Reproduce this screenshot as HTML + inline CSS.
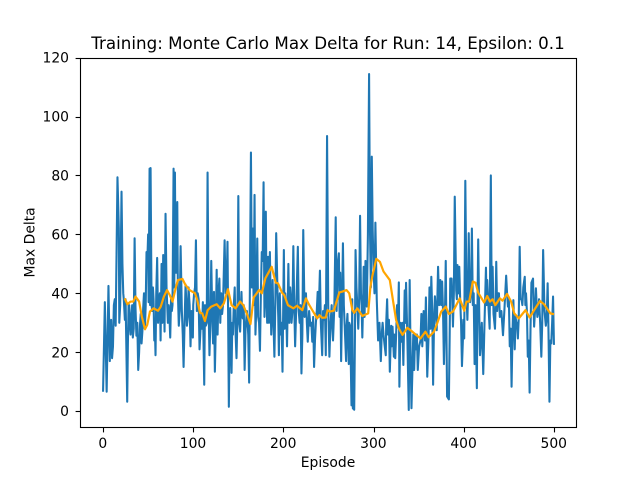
<!DOCTYPE html>
<html>
<head>
<meta charset="utf-8">
<title>Training: Monte Carlo Max Delta</title>
<style>
html,body{margin:0;padding:0;background:#fff;}
#chart{display:block;width:640px;height:480px;}
text{font-family:"DejaVu Sans","Liberation Sans",sans-serif;fill:#000;}
</style>
</head>
<body>
<svg id="chart" xmlns="http://www.w3.org/2000/svg" width="640" height="480" viewBox="0 0 640 480">
<rect x="0" y="0" width="640" height="480" fill="#fff"/>
<text x="328" y="49" font-size="16.72" text-anchor="middle">Training: Monte Carlo Max Delta for Run: 14, Epsilon: 0.1</text>
<text x="328" y="467" font-size="13.89" text-anchor="middle">Episode</text>
<text transform="translate(34.5 242.4) rotate(-90)" font-size="13.89" text-anchor="middle">Max Delta</text>
<g id="marks"></g>
<g id="frame"></g>
<g id="ticks"></g>
</svg>
<script>
const xTickLabels = [0, 100, 200, 300, 400, 500];
const yTickLabels = [0, 20, 40, 60, 80, 100, 120];

const episodes = [0,2,4,6,7.5,9,10,12,14,16,19,20.5,22.4,24.2,26.8,28.3,29.8,31.6,33,35,37,39,40.9,42.7,44.5,46.4,48.2,49.4,50.5,51.6,52.7,53.8,55.3,56.8,58.2,60,62,63.8,64.9,66.7,68.2,69.3,70.4,71.9,73.4,74.5,76.3,78.2,79.7,81,82.3,84,86,87.4,89.3,91.5,93,94.8,97,99.6,101,103,105,107,108.9,110.7,112.2,114,115.9,118,120,122,123,124,126,127,129,131,132,134.8,137,138,139.5,141,142.5,144,146,148,150,152,153.5,155,157,159.5,162,164,166,168,169,171,173,174,176,177,178,180,180.5,182,183,184,185,186.5,188,190,192,193.5,195,197,199,200.5,202,204,205.5,207.5,209,211,213,216,218,220,222,225,227,230,232,234,236,238,240.5,243,245,247,248.4,251,253.5,255,258,260,261.5,263,264,266,268,269.5,271,272.5,274,275.5,277,278.5,280,282,283,285,286,287.5,289,291,292.5,295,296,298,299,301,302,305,308,310,312,313.5,315,317,318,319.5,321,322.5,324,326,328,328.6,331,333,334.5,336,339,340,342,343.5,345,347,349,350.5,353,354,358,359.5,362,364,366,368,370,371.5,374,376,378,380,381.5,383.5,385,386.5,388,390,391.6,393,395,396,398,399.5,400.5,401.7,404,405.5,407,409,411,412,414.5,416,418,420,421.6,424.6,426,428.7,430,432,433,434.6,436,438,440,443.5,447,449,451,453,455,456.5,458.3,460,462,464,466,467.6,469,471,473,475,476.8,478,480,481.6,483.5,486,488,491,493,495,497,499,500];

const maxDelta = [6.6,37,6.6,42.5,17,31,18,36,29,79.4,36,74.5,40,31,3.2,36,29,33,25,58.7,25.6,14,29,23,35,28,54,54,37,82.3,82.5,36,42,24,19,52,36,24,50,53,27,67,42,30,34,25,34,82.3,81,47,71,29,56,34,15,43,29,42,22,25,40,58,40,21,33,37,9,29,81,19,51,23,40.5,13.4,48,26,45,40,33,58,42,57.5,1.5,35,13,26,42,18,73,27,40.5,31.5,14,34,9.7,87.8,62,73.4,26,58.6,30,20.5,54,51,77.7,45.6,67.7,30,52.4,30,54,26,44.5,18.5,60.4,40,19,26,13.4,54.7,40,22,50,42,30,56,22,55.8,30,12.8,61.5,40,23.6,29,23.6,15,30,40.5,47.7,19,31,19,93.4,18.5,36,24,65.8,49,53.6,47,17,57,28.7,17,33,16,29,2,1,0.5,54.7,35.5,28,66.3,40,25,49,51,35.5,114.4,61.5,86.4,61.5,40,64,24,17,30,23,19,38,31,13.4,29,28.7,18.5,18,36,43.7,8.3,23.6,15.7,41,43.6,0.4,44.5,1,19.6,14,21,14,22,33,22,38.6,11.7,42,45.6,9,39,27.5,49,44.5,44,16,51,5,4,45,45,28.7,72.8,41,49.6,49,38,15.3,31,24.7,78.2,31,60.4,37,62,40,16,7.8,58.3,19,30,12.6,48.7,44.5,28,80,49,33,28,50.7,40,32,25.8,46,35.5,22,8.3,37.7,21,30,24.7,55.8,38,42,45.6,40,18.5,6.3,43.6,45,28.7,41.7,32,38,18.5,54.7,29,43.4,3.2,23,38.9,22.5];

const extraEpisodes = [8,11,13,17.5,18,21.5,23,25,27.5,29,30.5,32.3,34,36,38,40,41.8,43.6,45.4,47.3,50,52.2,54.5,56,57.5,59,61,63,65.8,67.5,72.7,75.4,77,79,80.4,83,85,88.4,90.4,92.2,94,96,98,100,102,104,106,109.8,113,115,117,119,121,125,128,130,133,136,140.3,143.3,145,147,149,151,154.3,156,158,161,165,167,170,172,175,179,181.3,187.3,189,191,194.3,196,198,201.3,203,206.5,208.3,210,212,214.5,217,219,221,223.5,226,228.5,231,233,235,237,239,241.5,244,246,249.7,252,254,256.5,259,262.3,265,267,270,273,276.3,279.3,281,284,286.7,288.3,290,293.7,297,300,303.5,306.5,309,311,314,316,320,323,325,327,329.8,332,335.2,337.5,341,344,346,348,352,355.5,357,361,363,365,367,369,370.7,372.7,375,377,379,384.3,387.2,389,392.3,394,397,399,403,404.8,406.2,408,410,413,415,417,419,423,425.3,427.3,431,435.3,437,439,441.7,445,448,450,452,454,457.4,459,461,463,465,468.3,470,472,474,477.4,479,480.8,482.5,484.7,487,489.5,492,494,496,498];

const extraDelta = [28,22,38,62,30,50,38,38,22,36,26,36,28,35,30,20,33,27,40,36,60,36,34,38,28,40,30,40,30,40,36,38,36,42,50,40,34,26,30,38,32,36,34,36,42,34,38,28,36,30,36,30,34,28,40,30,36,40,24,30,36,26,32,30,32,36,28,26,42,36,36,32,40,32,38,34,30,36,32,40,30,28,36,30,38,34,36,38,34,36,26,32,30,34,30,32,24,34,32,30,34,36,36,28,30,36,34,32,36,36,28,30,38,25,42,38,36,36,32,60,42,48,38,30,26,26,30,26,22,26,26,30,30,30,30,24,20,26,26,26,24,34,24,26,28,34,30,34,38,36,36,34,30,24,38,40,38,40,30,24,40,40,44,40,36,36,30,36,24,30,36,36,36,36,34,40,34,34,40,38,28,26,32,30,32,38,36,36,34,24,28,36,34,36,34,30,30,34,32,26,24,30];

const avgEpisodes = [24,27,30.5,33.5,36,40,43,46.5,49,52,56,61,64,67.5,71,74,77,80,83,88,91.5,96,102,104.5,107.5,110,113,116,120,126,130,134,138.5,142.5,147,152,155.5,160,163.5,167,173,176,180,187,191.5,194,198.5,201,205,211,215,221,225,228,232,237.5,240,243,247,249,251.5,256,262,265.5,270,273,276.5,278.5,282,287.5,294,296.5,298.5,303,307,311,318,322,325,328,332,337.5,343,347,352,357.5,361,367,370.5,375,380,383.5,388,395.5,400.5,403,406,410,413,416,422.5,426,429,432,435,440,443,448,452.5,456,461,468.5,473,478,484.5,489,496,500];

const avgDelta = [38.3,36.3,37.2,37.2,38.9,37.2,32.1,27.8,29.3,33.8,34.9,34.1,35.5,38.9,41.1,39.4,37.2,41.1,44.5,44.9,42.8,41.1,40,37.7,33.4,33.2,30.6,34.3,35.5,36.3,34.9,36.6,41.4,36,34.9,37.2,36,32.6,29.6,38.6,41.1,40,45.1,49,43.6,43.4,40.2,39.4,36,34.9,35.8,34.3,38.3,36.4,34.3,31.5,32.6,31.7,31.8,34.3,33.8,34.1,40.3,40.6,41.1,40,34.3,33.4,34.9,32.3,33.2,42.3,45.7,51.7,50.7,47.4,44.5,36.6,30.9,28.1,25.9,28.3,27,25.9,24.7,27,25.1,27,29.8,33.8,35.5,33,33.8,38.3,34.1,37.2,37.2,44,43.6,40.2,36.9,39.1,37.2,38,36,38.3,37.5,39.8,37.2,33.2,31.5,34.3,31.8,34.3,37.4,36.3,33.2,32.9];

const SVG_NS = 'http://www.w3.org/2000/svg';
const plotLeft = 80, plotRight = 576, plotTop = 57.6, plotBottom = 427.2;
const xMin = -25, xMax = 525, yMin = -5.43, yMax = 120;

function xScale(v) {
  return plotLeft + (v - xMin) / (xMax - xMin) * (plotRight - plotLeft);
}
function yScale(v) {
  return plotBottom - (v - yMin) / (yMax - yMin) * (plotBottom - plotTop);
}
function makeEl(tag) {
  return document.createElementNS(SVG_NS, tag);
}
function linePath(xs, ys) {
  return xs.map(function (x, i) {
    return (i ? 'L' : 'M') + (xScale(x) + 0.5).toFixed(2) + ' ' + yScale(ys[i]).toFixed(2);
  }).join('');
}

const allPoints = episodes.map(function (e, i) {
  return { e: e, v: maxDelta[i] };
}).concat(extraEpisodes.map(function (e, i) {
  return { e: e, v: extraDelta[i] };
})).sort(function (a, b) {
  return a.e - b.e;
});

const marks = document.getElementById('marks');
const frame = document.getElementById('frame');
const ticks = document.getElementById('ticks');

const blueLine = makeEl('path');


blueLine.setAttribute('d', linePath(allPoints.map(function (p) { return p.e; }), allPoints.map(function (p) { return p.v; })));
blueLine.setAttribute('fill', 'none');
blueLine.setAttribute('stroke', '#1f77b4');
blueLine.setAttribute('stroke-width', '2.08');
blueLine.setAttribute('stroke-linejoin', 'round');
marks.appendChild(blueLine);

const orangeLine = makeEl('path');


orangeLine.setAttribute('d', linePath(avgEpisodes, avgDelta));
orangeLine.setAttribute('fill', 'none');
orangeLine.setAttribute('stroke', '#ffa500');
orangeLine.setAttribute('stroke-width', '2.2');
orangeLine.setAttribute('stroke-linejoin', 'round');
marks.appendChild(orangeLine);

const axesBorder = makeEl('rect');


axesBorder.setAttribute('x', 80.5);
axesBorder.setAttribute('y', 58.5);
axesBorder.setAttribute('width', 496);
axesBorder.setAttribute('height', 369);
axesBorder.setAttribute('fill', 'none');
axesBorder.setAttribute('stroke', '#000');
axesBorder.setAttribute('stroke-width', '1.1');
frame.appendChild(axesBorder);

xTickLabels.forEach(function (t) {
  const px = Math.ceil(xScale(t)) + 0.5;
  const mark = makeEl('line');
  
  
  mark.setAttribute('x1', px);
  mark.setAttribute('x2', px);
  mark.setAttribute('y1', 427.5);
  mark.setAttribute('y2', 432.4);
  mark.setAttribute('stroke', '#000');
  mark.setAttribute('stroke-width', '1.1');
  ticks.appendChild(mark);
  const label = makeEl('text');
  
  
  label.setAttribute('x', xScale(t) + 0.3);
  label.setAttribute('y', 448);
  label.setAttribute('font-size', '13.89');
  label.setAttribute('text-anchor', 'middle');
  label.textContent = t;
  ticks.appendChild(label);
});

yTickLabels.forEach(function (t) {
  const py = Math.round(yScale(t)) + 0.5;
  const mark = makeEl('line');
  
  
  mark.setAttribute('x1', 75.6);
  mark.setAttribute('x2', 80.5);
  mark.setAttribute('y1', py);
  mark.setAttribute('y2', py);
  mark.setAttribute('stroke', '#000');
  mark.setAttribute('stroke-width', '1.1');
  ticks.appendChild(mark);
  const label = makeEl('text');
  
  
  label.setAttribute('x', 69);
  label.setAttribute('y', yScale(t) + 5);
  label.setAttribute('font-size', '13.89');
  label.setAttribute('text-anchor', 'end');
  label.textContent = t;
  ticks.appendChild(label);
});
</script>
</body>
</html>
